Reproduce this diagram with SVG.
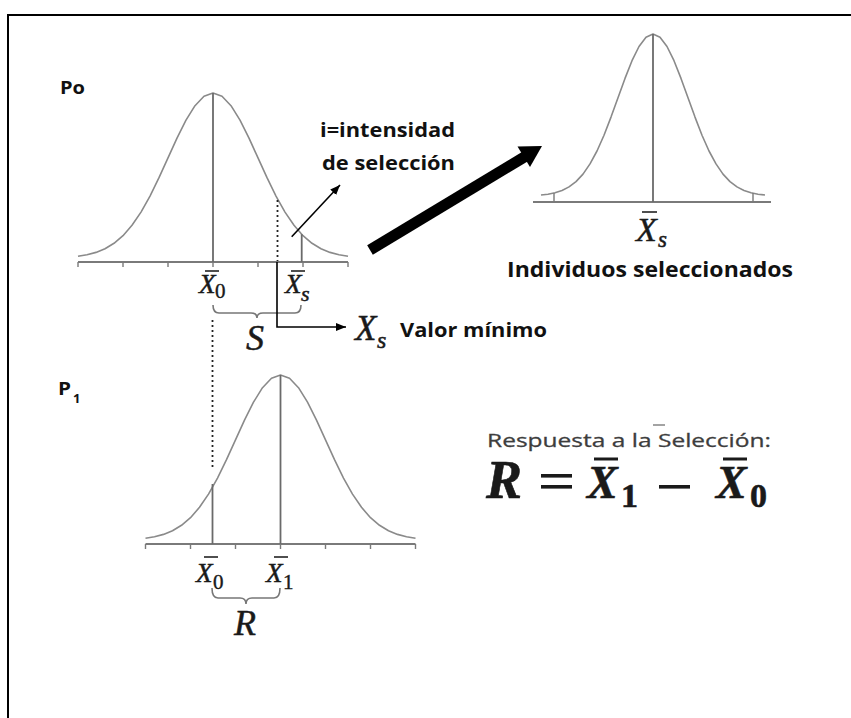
<svg xmlns="http://www.w3.org/2000/svg" xmlns:xlink="http://www.w3.org/1999/xlink" width="851" height="718" viewBox="0 0 851 718">
<style>
.curve{fill:none;stroke:#8a8a8a;stroke-width:1.6;stroke-linejoin:round}
.axis{fill:none;stroke:#7a7a7a;stroke-width:2}
.tick{stroke:#7a7a7a;stroke-width:1.4}
.vline{stroke:#6a6a6a;stroke-width:1.8}
.bar{stroke:#222;stroke-width:1.6}
.brace{fill:none;stroke:#777;stroke-width:1.6}
.dots{stroke:#222;stroke-width:1.8;stroke-dasharray:2 3}
.thin{fill:none;stroke:#000;stroke-width:1.6}
.lbl{font-family:"Open Sans",sans-serif;font-weight:bold;fill:#111}
.math{font-family:"Liberation Serif",serif;font-style:italic;fill:#1a1a1a;stroke:#1a1a1a;stroke-width:0.5}
.mnum{font-family:"Liberation Serif",serif;fill:#1a1a1a;stroke:#1a1a1a;stroke-width:0.4}
.big{font-weight:bold;stroke-width:0.6}
</style>
<defs>
<marker id="ah" markerUnits="userSpaceOnUse" markerWidth="10" markerHeight="8" refX="10" refY="4" orient="auto">
<path d="M0,0 L10,4 L0,8 z" fill="#000"/>
</marker>
<g id="bell">
<path class="curve" d="M78,256.2 L87,254.7 L96,252.4 L105,248.7 L114,243.3 L123,235.7 L132,225.3 L141,212.1 L150,196.1 L159,177.7 L168,157.9 L177,138.2 L186,120.2 L195,105.7 L204,96.3 L213,93 L222,96.3 L231,105.7 L240,120.2 L249,138.2 L258,157.9 L267,177.7 L276,196.1 L285,212.1 L294,225.3 L303,235.7 L312,243.3 L321,248.7 L330,252.4 L339,254.7 L348,256.2"/>
<line class="axis" x1="78" y1="262" x2="348" y2="262"/>
<path class="tick" d="M78,262 V267 M123,262 V267 M168,262 V267 M213,262 V267 M258,262 V267 M303,262 V267 M348,262 V267"/>
</g>
</defs>
<rect id="border" x="8" y="15" width="900" height="800" fill="none" stroke="#000" stroke-width="2"/>

<g id="population-P0">
<text class="lbl" x="60" y="94" font-size="17" textLength="25" lengthAdjust="spacingAndGlyphs">Po</text>
<use xlink:href="#bell"/>
<line class="vline" x1="213" y1="93" x2="213" y2="262"/>
<line class="vline" x1="301.7" y1="234.2" x2="301.7" y2="262"/>
<line class="bar" x1="205" y1="271" x2="219" y2="271"/>
<text class="math" x="199" y="293" font-size="27">X</text>
<text class="mnum" x="215" y="298" font-size="21">0</text>
<line class="bar" x1="291" y1="271" x2="305" y2="271"/>
<text class="math" x="285" y="293" font-size="27">X</text>
<text class="math" x="301" y="301" font-size="22">s</text>
<path class="brace" d="M213,305 Q213,313 219,313 L251,313 Q257,313 257,318 Q257,313 263,313 L295,313 Q301,313 301,305"/>
<text class="math" x="255" y="350" font-size="36" text-anchor="middle">S</text>
</g>

<g id="population-P1">
<text class="lbl" x="58" y="395" font-size="17" textLength="13" lengthAdjust="spacingAndGlyphs">P</text>
<text class="lbl" x="73" y="403" font-size="13">1</text>
<use xlink:href="#bell" transform="translate(67.5,282)"/>
<line class="vline" x1="212.5" y1="484" x2="212.5" y2="544"/>
<line class="vline" x1="280.5" y1="375" x2="280.5" y2="544"/>
<line class="bar" x1="204" y1="557" x2="218" y2="557"/>
<text class="math" x="196" y="582" font-size="27">X</text>
<text class="mnum" x="213" y="589" font-size="21">0</text>
<line class="bar" x1="274" y1="557" x2="288" y2="557"/>
<text class="math" x="266" y="582" font-size="27">X</text>
<text class="mnum" x="283" y="589" font-size="21">1</text>
<path class="brace" d="M212,588 Q212,598 218,598 L240,598 Q246,598 246,604 Q246,598 252,598 L274,598 Q280,598 280,588"/>
<text class="math" x="245" y="635" font-size="36" text-anchor="middle">R</text>
</g>

<g id="selected-individuals">
<path class="curve" d="M541,195 L548,194.2 L555,192.8 L562,190.5 L569,186.9 L576,181.6 L583,174.1 L590,163.9 L597,151 L604,135.2 L611,117.1 L618,97.7 L625,78.4 L632,60.7 L639,46.5 L646,37.2 L653,34 L660,37.2 L667,46.5 L674,60.7 L681,78.4 L688,97.7 L695,117.1 L702,135.2 L709,151 L716,163.9 L723,174.1 L730,181.6 L737,186.9 L744,190.5 L751,192.8 L758,194.2 L765,195"/>
<line class="axis" x1="533" y1="202" x2="771" y2="202"/>
<path class="tick" d="M554,202 V193 M753,202 V193"/>
<line class="vline" x1="653" y1="34" x2="653" y2="202"/>
<line class="bar" x1="642" y1="212" x2="657" y2="212"/>
<text class="math" x="636" y="241" font-size="34">X</text>
<text class="math" x="658" y="247" font-size="23">s</text>
<text class="lbl" x="507" y="277" font-size="21" textLength="286" lengthAdjust="spacingAndGlyphs">Individuos seleccionados</text>
</g>

<g id="label-intensity">
<text class="lbl" x="320" y="137" font-size="20" textLength="135" lengthAdjust="spacingAndGlyphs">i=intensidad</text>
<text class="lbl" x="322" y="170" font-size="20" textLength="133" lengthAdjust="spacingAndGlyphs">de selección</text>
</g>

<g id="label-minimum">
<text class="math" x="355" y="340" font-size="35">X</text>
<text class="math" x="377" y="348" font-size="24">s</text>
<text class="lbl" x="400" y="337" font-size="20" textLength="147" lengthAdjust="spacingAndGlyphs">Valor mínimo</text>
</g>

<g id="response-formula">
<text x="487" y="447" font-family="'Open Sans',sans-serif" font-size="19" fill="#3d3d3d" stroke="#3d3d3d" stroke-width="0.3" textLength="284" lengthAdjust="spacingAndGlyphs">Respuesta a la Selección:</text>
<line x1="653" y1="425" x2="665" y2="425" stroke="#666" stroke-width="1.2"/>
<text class="math big" x="486" y="498" font-size="54">R</text>
<rect x="541" y="474" width="31" height="3.6" fill="#1a1a1a"/>
<rect x="541" y="485" width="31" height="3.6" fill="#1a1a1a"/>
<line x1="594" y1="459" x2="618" y2="459" stroke="#1a1a1a" stroke-width="3"/>
<text class="math big" x="587" y="498" font-size="46">X</text>
<text class="mnum big" x="621" y="507" font-size="34">1</text>
<rect x="659" y="485" width="31" height="3.6" fill="#1a1a1a"/>
<line x1="723" y1="459" x2="747" y2="459" stroke="#1a1a1a" stroke-width="3"/>
<text class="math big" x="716" y="498" font-size="46">X</text>
<text class="mnum big" x="750" y="507" font-size="34">0</text>
</g>

<g id="connectors">
<line class="dots" x1="277.5" y1="200" x2="277.5" y2="261"/>
<path class="thin" d="M277,262 V327 H346" marker-end="url(#ah)"/>
<line class="thin" x1="291.7" y1="236.7" x2="340" y2="185" marker-end="url(#ah)"/>
<line class="dots" x1="212.5" y1="320" x2="212.5" y2="467"/>
<line x1="370" y1="250" x2="526" y2="156" stroke="#000" stroke-width="11"/>
<polygon points="542,146 517.5,146.5 530,167" fill="#000"/>
</g>
</svg>
